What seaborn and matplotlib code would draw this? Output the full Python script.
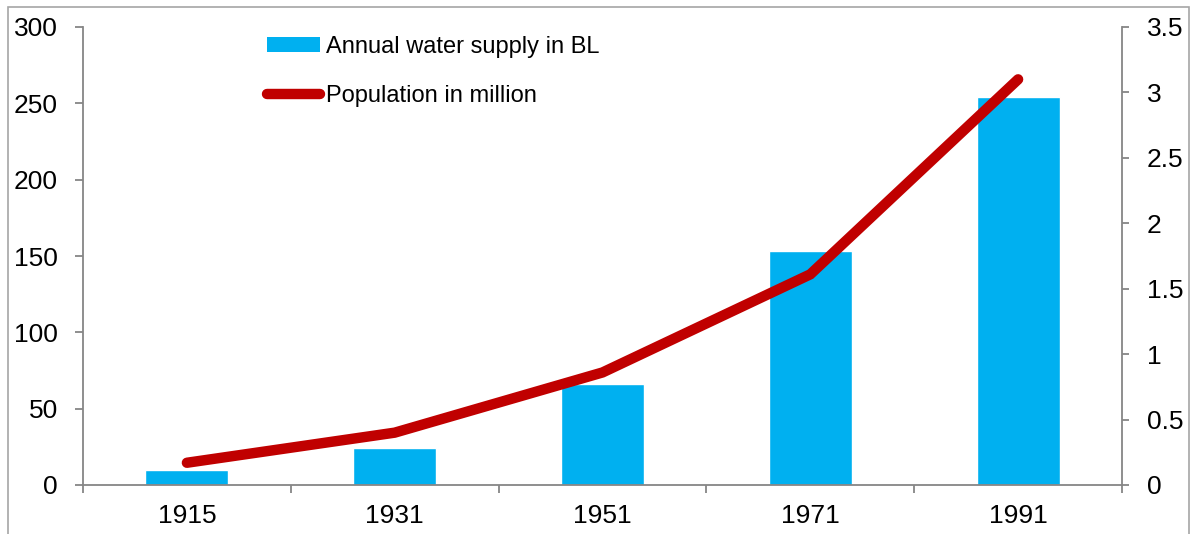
import numpy as np
import matplotlib
matplotlib.use("Agg")
import matplotlib.pyplot as plt
import seaborn as sns
from matplotlib.patches import Rectangle
from matplotlib.lines import Line2D
from matplotlib.patches import Patch

years = ["1915", "1931", "1951", "1971", "1991"]
water_supply = [10, 24, 66, 153, 254]
population = [0.17, 0.40, 0.86, 1.61, 3.10]

BAR_COLOR = "#00B0F0"
LINE_COLOR = "#C00000"
AXIS_GRAY = "#868686"

sns.set_style("white")
plt.rcParams['font.family'] = ['Liberation Sans', 'DejaVu Sans']
plt.rcParams['text.color'] = 'black'
plt.rcParams['xtick.labelcolor'] = 'black'
plt.rcParams['ytick.labelcolor'] = 'black'

fig = plt.figure(figsize=(11.92, 5.34), dpi=100)
ax = fig.add_axes([83 / 1192, 1 - 485 / 534, (1122 - 83) / 1192, (485 - 27) / 534])

sns.barplot(x=years, y=water_supply, color=BAR_COLOR, width=0.4, saturation=1, ax=ax)
ax.set_ylim(0, 300)
ax.set_yticks(np.arange(0, 301, 50))
ax.set_xlim(-0.5, len(years) - 0.5)
ax.set_xlabel("")
ax.set_ylabel("")

ax2 = ax.twinx()
sns.lineplot(x=np.arange(len(years)), y=population, ax=ax2, color=LINE_COLOR,
             linewidth=7.5, solid_capstyle="round", solid_joinstyle="miter")
ax2.set_ylim(0, 3.5)
ax2.set_yticks(np.arange(0, 3.51, 0.5))
ax2.set_yticklabels([f"{v:g}" for v in np.arange(0, 3.51, 0.5)])
ax2.set_xlim(-0.5, len(years) - 0.5)
ax2.set_xlabel("")
ax2.set_ylabel("")

for a in (ax, ax2):
    for s in a.spines.values():
        s.set_color(AXIS_GRAY)
        s.set_linewidth(1.3)
    a.spines["top"].set_visible(False)
ax.spines["right"].set_visible(False)
ax2.spines["left"].set_visible(False)
ax2.spines["bottom"].set_visible(False)

ax.set_xticks(np.arange(len(years)))
ax.set_xticklabels(years)
ax.set_xticks(np.arange(-0.5, len(years), 1), minor=True)
ax.tick_params(axis="x", which="major", length=0, pad=14, labelsize=19, labelcolor="black")
ax.tick_params(axis="x", which="minor", length=6, width=1.3, color=AXIS_GRAY, direction="out", bottom=True)
ax.tick_params(axis="y", length=6, width=1.3, color=AXIS_GRAY, direction="out", pad=12,
               labelsize=19, left=True, labelcolor="black")
ax2.tick_params(axis="y", length=5, width=1.3, color=AXIS_GRAY, direction="out", pad=13,
                labelsize=19, right=True, labelcolor="black")

handles = [Patch(facecolor=BAR_COLOR, edgecolor="none"),
           Line2D([0], [0], color=LINE_COLOR, linewidth=7.5, solid_capstyle="round")]
leg = fig.legend(handles, ["Annual water supply in BL", "Population in million"],
                 loc="upper left", bbox_to_anchor=(267 / 1192, 1 - 36 / 534),
                 frameon=False, fontsize=17, handlelength=2.25, handleheight=0.6,
                 handletextpad=0.25, labelspacing=1.15, borderaxespad=0, borderpad=0)
for t in leg.get_texts():
    t.set_color("black")

fig.patches.append(Rectangle((8 / 1192, -0.1), (1189 - 8) / 1192, 1.1 - 7 / 534,
                             transform=fig.transFigure, fill=False,
                             edgecolor="#A6A6A6", linewidth=1.2))

fig.savefig("out.png", dpi=100)
